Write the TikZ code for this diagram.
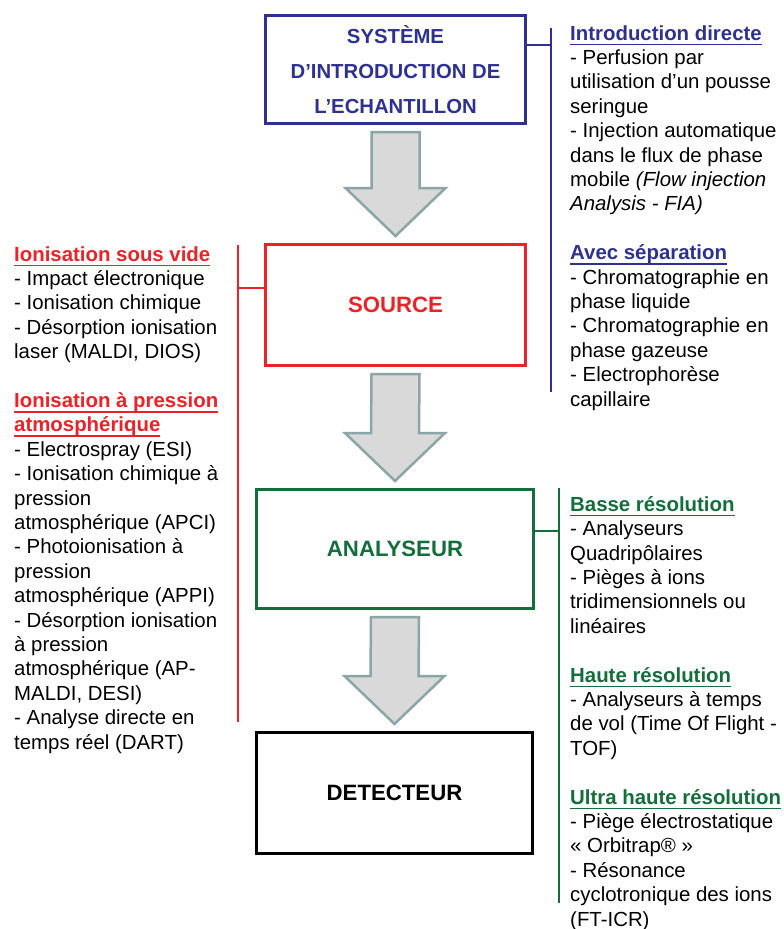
\documentclass[tikz,border=0pt]{standalone}
\usepackage{fontspec}
\setmainfont{Liberation Sans}
\usetikzlibrary{positioning}
\usetikzlibrary{calc}

\definecolor{bleunuit}{RGB}{46,49,146}
\definecolor{rouge}{RGB}{237,34,40}
\definecolor{vert}{RGB}{20,110,60}
\definecolor{grisfleche}{RGB}{217,217,217}
\definecolor{bordfleche}{RGB}{140,166,168}

\newcommand{\souligne}[1]{\setbox0=\hbox{#1}\rlap{\rule[-5pt]{\wd0}{1.6pt}}\box0}
\newcommand{\titre}[2]{\textcolor{#1}{\textbf{\souligne{#2}}}}

\tikzset{
  boite/.style={draw=#1, text=#1, line width=3pt, align=center, inner sep=0pt,
    font=\bfseries\fontsize{22.2}{35}\selectfont},
  texte/.style={align=left, inner sep=0pt, anchor=north west,
    font=\fontsize{20.4}{24.4}\selectfont},
  crochet/.style={draw=#1, line width=2pt},
  fleche/.style={fill=grisfleche, draw=bordfleche, line width=2.5pt, line join=miter}
}

\newcommand{\flechebloc}[2]{%
  \draw[fleche] ($(#1.south)+(-24,7)$) -- ($(#1.south)+(24,7)$)
    -- ($(#2.north)+(24,-55)$) -- ($(#2.north)+(50,-55)$)
    -- ($(#2.north)+(0,-7)$) -- ($(#2.north)+(-50,-55)$)
    -- ($(#2.north)+(-24,-55)$) -- cycle;}

\begin{document}
\begin{tikzpicture}[x=1pt,y=-1pt]
 \useasboundingbox (0,0) rectangle (784,929);

 % les quatre etapes
 \node[boite=bleunuit, minimum width=260, minimum height=108,
   font=\bfseries\fontsize{20.3}{35}\selectfont] (intro) at (395.5,69.5)
   {SYSTÈME\\D’INTRODUCTION DE\\L’ECHANTILLON};
 \node[boite=rouge, minimum width=260, minimum height=121] (source) at (395.5,305) {SOURCE};
 \node[boite=vert, minimum width=277, minimum height=119] (analyseur) at (395,549) {ANALYSEUR};
 \node[boite=black, minimum width=276, minimum height=121] (detecteur) at (394.5,793) {DETECTEUR};

 \flechebloc{intro}{source}
 \flechebloc{source}{analyseur}
 \flechebloc{analyseur}{detecteur}

 % crochets
 \coordinate (navyhaut) at (551,28);
 \coordinate (navybas) at (551,392);
 \coordinate (navyattache) at (551,45);
 \draw[crochet=bleunuit] (navyhaut) -- (navybas);
 \draw[crochet=bleunuit] (intro.east |- navyattache) -- (navyattache);

 \coordinate (rougehaut) at (238,245);
 \coordinate (rougebas) at (238,722);
 \coordinate (rougeattache) at (238,288);
 \draw[crochet=rouge] (rougehaut) -- (rougebas);
 \draw[crochet=rouge] (rougeattache) -- (source.west |- rougeattache);

 \coordinate (verthaut) at (559,488);
 \coordinate (vertbas) at (559,903);
 \coordinate (vertattache) at (559,531);
 \draw[crochet=vert] (verthaut) -- (vertbas);
 \draw[crochet=vert] (analyseur.east |- vertattache) -- (vertattache);

 % textes
 \node[texte] (txtintro) at (570,25.2) {\titre{bleunuit}{Introduction directe}\\
   - Perfusion par\\
   utilisation d’un pousse\\
   seringue\\
   - Injection automatique\\
   dans le flux de phase\\
   mobile \textit{(Flow injection}\\
   \textit{Analysis - FIA)}\\[24.4pt]
   \titre{bleunuit}{Avec séparation}\\
   - Chromatographie en\\
   phase liquide\\
   - Chromatographie en\\
   phase gazeuse\\
   - Electrophorèse\\
   capillaire};

 \node[texte] (txtsource) at (14,246.2) {\titre{rouge}{Ionisation sous vide}\\
   - Impact électronique\\
   - Ionisation chimique\\
   - Désorption ionisation\\
   laser (MALDI, DIOS)\\[24.4pt]
   \titre{rouge}{Ionisation à pression}\\
   \titre{rouge}{atmosphérique}\\
   - Electrospray (ESI)\\
   - Ionisation chimique à\\
   pression\\
   atmosphérique (APCI)\\
   - Photoionisation à\\
   pression\\
   atmosphérique (APPI)\\
   - Désorption ionisation\\
   à pression\\
   atmosphérique (AP-\\
   MALDI, DESI)\\
   - Analyse directe en\\
   temps réel (DART)};

 \node[texte] (txtanalyseur) at (570,496.2) {\titre{vert}{Basse résolution}\\
   - Analyseurs\\
   Quadripôlaires\\
   - Pièges à ions\\
   tridimensionnels ou\\
   linéaires\\[24.4pt]
   \titre{vert}{Haute résolution}\\
   - Analyseurs à temps\\
   de vol (Time Of Flight -\\
   TOF)\\[24.4pt]
   \titre{vert}{Ultra haute résolution}\\
   - Piège électrostatique\\
   « Orbitrap® »\\
   - Résonance\\
   cyclotronique des ions\\
   (FT-ICR)};
\end{tikzpicture}
\end{document}
